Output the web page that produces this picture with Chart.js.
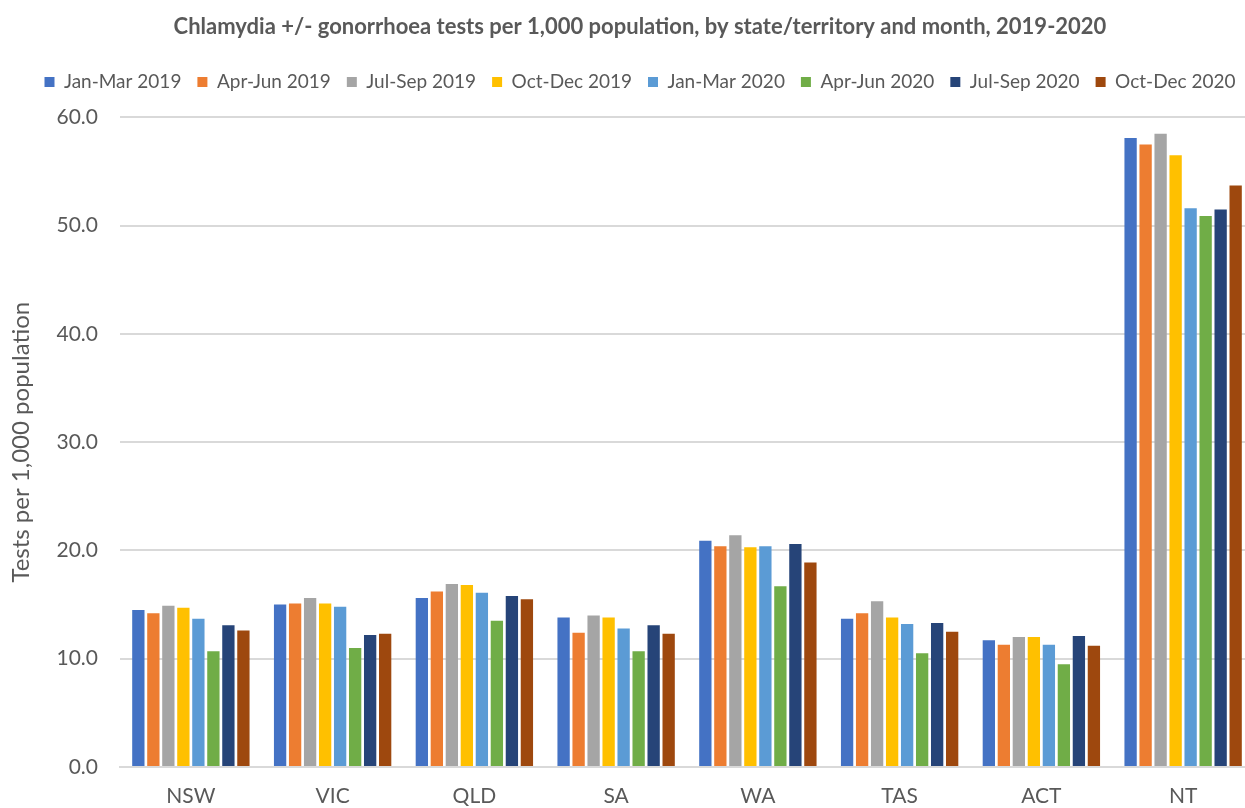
<!DOCTYPE html>
<html lang="en">
<head>
  <meta charset="UTF-8">
  <title>Chlamydia +/- gonorrhoea tests per 1,000 population</title>
  <script src="https://cdn.jsdelivr.net/npm/chart.js"></script>
  <style>
    html, body { margin: 0; padding: 0; background: #fff; }
    #wrap { width: 1245px; height: 808px; overflow: hidden; position: relative; }
    canvas { display: block; }
  </style>
</head>
<body>
  <div id="wrap">
    <canvas id="testsChart" width="1280" height="808"></canvas>
  </div>

  <script>
    // States / territories along the x axis
    const states = ['NSW', 'VIC', 'QLD', 'SA', 'WA', 'TAS', 'ACT', 'NT'];

    // Tests per 1,000 population, one array per quarter
    const janMar2019 = [14.5, 15.0, 15.6, 13.8, 20.9, 13.7, 11.7, 58.1];
    const aprJun2019 = [14.2, 15.1, 16.2, 12.4, 20.4, 14.2, 11.3, 57.5];
    const julSep2019 = [14.9, 15.6, 16.9, 14.0, 21.4, 15.3, 12.0, 58.5];
    const octDec2019 = [14.7, 15.1, 16.8, 13.8, 20.3, 13.8, 12.0, 56.5];
    const janMar2020 = [13.7, 14.8, 16.1, 12.8, 20.4, 13.2, 11.3, 51.6];
    const aprJun2020 = [10.7, 11.0, 13.5, 10.7, 16.7, 10.5, 9.5, 50.9];
    const julSep2020 = [13.1, 12.2, 15.8, 13.1, 20.6, 13.3, 12.1, 51.5];
    const octDec2020 = [12.6, 12.3, 15.5, 12.3, 18.9, 12.5, 11.2, 53.7];

    const seriesLabels = ['Jan-Mar 2019', 'Apr-Jun 2019', 'Jul-Sep 2019', 'Oct-Dec 2019',
                          'Jan-Mar 2020', 'Apr-Jun 2020', 'Jul-Sep 2020', 'Oct-Dec 2020'];
    const seriesData = [janMar2019, aprJun2019, julSep2019, octDec2019,
                        janMar2020, aprJun2020, julSep2020, octDec2020];
    const seriesColors = ['#4472C4', '#ED7D31', '#A5A5A5', '#FFC000',
                          '#5B9BD5', '#70AD47', '#264478', '#9E480E'];

    const yTicks = [0, 10, 20, 30, 40, 50, 60];

    const textColor = '#595959';
    const gridColor = '#d9d9d9';
    const fontFamily = 'Lato, "Noto Sans", sans-serif';

    const datasets = seriesLabels.map((label, i) => ({
      label: label,
      data: seriesData[i],
      backgroundColor: seriesColors[i],
      borderWidth: 0,
      categoryPercentage: 0.847,
      barPercentage: 0.82
    }));

    // Extra gap between the legend row and the plot
    const legendGap = {
      id: 'legendGap',
      beforeInit(chart) {
        const fit = chart.legend.fit;
        chart.legend.fit = function () {
          fit.bind(chart.legend)();
          this.height += 16;
        };
      }
    };

    Chart.defaults.devicePixelRatio = 1;

    new Chart(document.getElementById('testsChart'), {
      type: 'bar',
      data: { labels: states, datasets: datasets },
      plugins: [legendGap],
      options: {
        responsive: false,
        animation: false,
        layout: { padding: { left: 26, right: 26, top: 0, bottom: 0 } },
        plugins: {
          title: {
            display: true,
            text: 'Chlamydia +/- gonorrhoea tests per 1,000 population, by state/territory and month, 2019-2020',
            color: textColor,
            font: { family: fontFamily, size: 22, weight: 'bold' },
            padding: { top: 14, bottom: 16 }
          },
          legend: {
            position: 'top',
            labels: {
              color: textColor,
              font: { family: fontFamily, size: 19 },
              boxWidth: 10,
              boxHeight: 10,
              padding: 16
            }
          },
          tooltip: { enabled: false }
        },
        scales: {
          x: {
            grid: { display: false, drawTicks: false },
            border: { display: true, color: gridColor, width: 2 },
            ticks: {
              color: textColor,
              font: { family: fontFamily, size: 21 },
              padding: 17
            },
            afterFit: (scale) => { scale.height = 41; }
          },
          y: {
            min: yTicks[0],
            max: yTicks[yTicks.length - 1],
            afterBuildTicks: (scale) => { scale.ticks = yTicks.map(v => ({ value: v })); },
            grid: { color: gridColor, lineWidth: 2, drawTicks: false },
            border: { display: false },
            ticks: {
              color: textColor,
              font: { family: fontFamily, size: 21 },
              padding: 22,
              callback: (v) => Number(v).toFixed(1)
            },
            title: {
              display: true,
              text: 'Tests per 1,000 population',
              color: textColor,
              font: { family: fontFamily, size: 24 },
              padding: { top: -19, bottom: 0 }
            },
            afterFit: (scale) => { scale.width = 94; }
          }
        }
      }
    });
  </script>
</body>
</html>
